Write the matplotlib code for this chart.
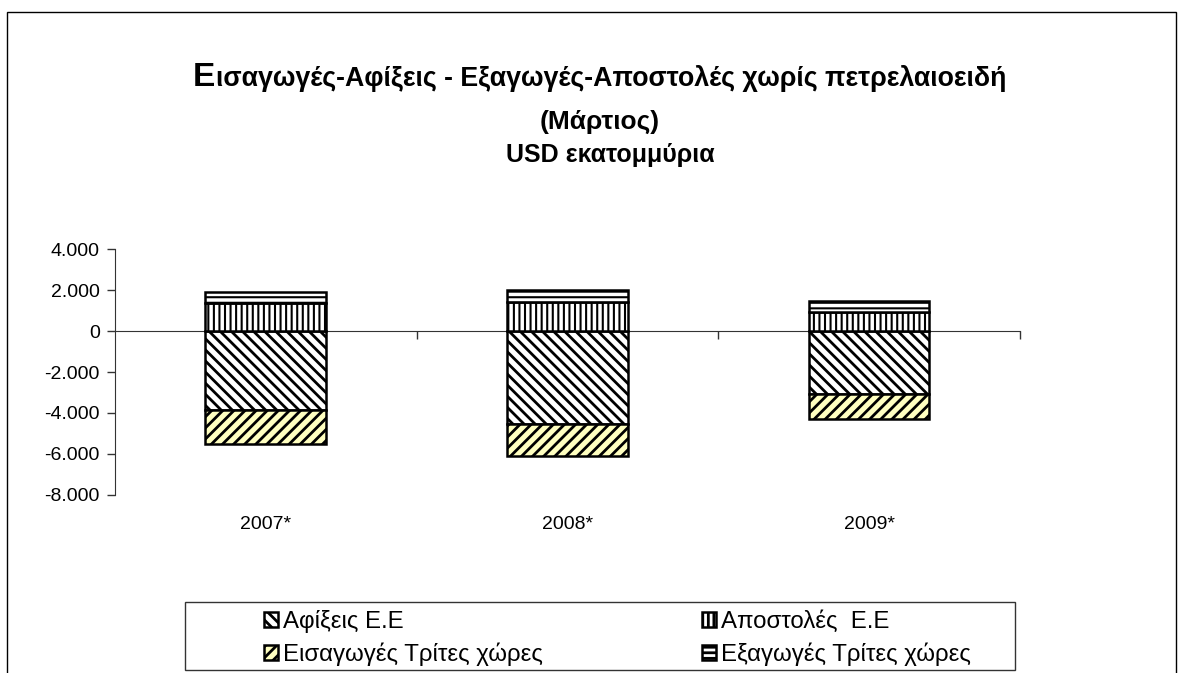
import matplotlib
matplotlib.use("Agg")
import matplotlib.pyplot as plt
from matplotlib.patches import Rectangle
from matplotlib.ticker import FuncFormatter

years = ["2007*", "2008*", "2009*"]
afixeis_ee = [-3850, -4540, -3050]
eisagoges_tritoi = [-1660, -1560, -1230]
apostoles_ee = [1370, 1420, 930]
exagoges_tritoi = [540, 590, 540]

series_labels = ["Αφίξεις Ε.Ε", "Εισαγωγές Τρίτες χώρες",
                 "Αποστολές  Ε.Ε", "Εξαγωγές Τρίτες χώρες"]
yticks = [-8000, -6000, -4000, -2000, 0, 2000, 4000]

plt.rcParams['font.family'] = ['Liberation Sans', 'DejaVu Sans']
plt.rcParams['hatch.color'] = '#3a3a3a'
plt.rcParams['hatch.linewidth'] = 2.0

W, H = 1183, 673
fig = plt.figure(figsize=(W / 100, H / 100), dpi=100)
ax = fig.add_axes([0.0972, 0.2645, 0.765, 0.3655])

x = list(range(len(years)))
w = 0.4
common = dict(width=w, edgecolor='black', linewidth=1.8)
b1 = ax.bar(x, afixeis_ee, color='white', hatch='\\\\\\', **common)
b2 = ax.bar(x, eisagoges_tritoi, bottom=afixeis_ee, color='#FFFFC0', hatch='///', **common)
with plt.rc_context({'hatch.linewidth': 1.5}):
    b3 = ax.bar(x, apostoles_ee, color='white', hatch='|||', **common)
    b4 = ax.bar(x, exagoges_tritoi, bottom=apostoles_ee, color='white', hatch='---', **common)

ax.set_xlim(-0.5, len(years) - 0.5)
ax.set_ylim(-8000, 4000)
ax.set_yticks(yticks)
ax.yaxis.set_major_formatter(FuncFormatter(lambda v, p: f"{int(v):,}".replace(",", ".")))
ax.tick_params(axis='y', direction='out', length=6, width=1, colors='#333333',
               labelsize=14, labelcolor='black', pad=5)

for s in ['top', 'right']:
    ax.spines[s].set_visible(False)
ax.spines['left'].set_color('#333333')
ax.spines['bottom'].set_position(('data', 0))
ax.spines['bottom'].set_color('#333333')
ax.spines['bottom'].set_zorder(0.5)

ax.set_xticks(x)
ax.set_xticklabels(years)
ax.set_xticks([i + 0.5 for i in x], minor=True)
ax.tick_params(axis='x', which='major', length=0, pad=133, labelsize=14)
ax.tick_params(axis='x', which='minor', direction='out', length=6, width=1, colors='#333333')

# Title: enlarged first letter on line 1
renderer = fig.canvas.get_renderer()
line1 = "Εισαγωγές-Αφίξεις - Εξαγωγές-Αποστολές χωρίς πετρελαιοειδή"
base_y = 1 - 86 / H
t_first = fig.text(0, base_y, line1[0], fontsize=24, fontweight='bold', va='baseline', ha='left')
t_rest = fig.text(0, base_y, line1[1:], fontsize=19.3, fontweight='bold', va='baseline', ha='left')
w1 = t_first.get_window_extent(renderer).width
w2 = t_rest.get_window_extent(renderer).width
x0 = (599 - (w1 + w2) / 2) / W
t_first.set_x(x0)
t_rest.set_x(x0 + (w1 + 1) / W)

fig.text(600 / W, 1 - 122 / H, "(Μάρτιος)", ha='center', va='center', fontsize=19, fontweight='bold')
fig.text(610 / W, 1 - 155 / H, "USD εκατομμύρια", ha='center', va='center', fontsize=18,
         fontweight='bold')

# Legend with separate frame
fig.patches.append(Rectangle((185 / W, 1 - 670 / H), 830 / W, 68 / H, transform=fig.transFigure,
                             fill=False, edgecolor='#333333', linewidth=1))
handles = [b1, b2, b3, b4]
leg = fig.legend(handles, series_labels, ncol=2, loc='upper left',
                 bbox_to_anchor=(264 / W, 1 - 610 / H),
                 fontsize=17.3, frameon=False,
                 handlelength=0.6, handleheight=0.6, handletextpad=0.2,
                 borderpad=0, labelspacing=0.4, borderaxespad=0, columnspacing=6.6)

fig.patches.append(Rectangle((0.0059, -0.02), 0.988, 1.002, transform=fig.transFigure,
                             fill=False, edgecolor='black', linewidth=1))

fig.savefig("out.png", dpi=100)
